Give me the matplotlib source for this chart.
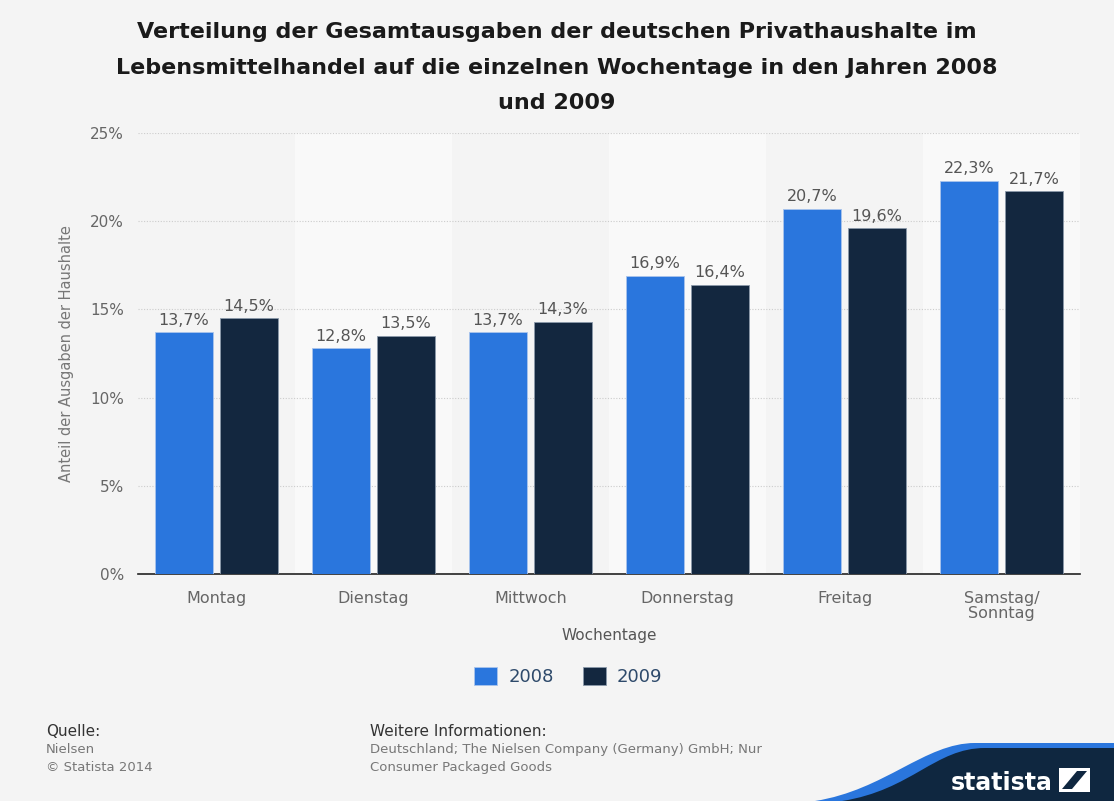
import matplotlib.pyplot as plt
import numpy as np
from matplotlib.patches import Polygon, Rectangle, PathPatch
from matplotlib.path import Path

# Data
days = ["Montag", "Dienstag", "Mittwoch", "Donnerstag", "Freitag", "Samstag/\nSonntag"]
years = ["2008", "2009"]
share_2008 = [13.7, 12.8, 13.7, 16.9, 20.7, 22.3]
share_2009 = [14.5, 13.5, 14.3, 16.4, 19.6, 21.7]
y_ticks = [0, 5, 10, 15, 20, 25]

col_2008 = "#2a76dd"
col_2009 = "#13273f"
bg = "#f4f4f4"

plt.rcParams["font.family"] = ["DejaVu Sans"]

fig = plt.figure(figsize=(11.14, 8.01), dpi=100, facecolor=bg)
ax = fig.add_axes([0.1239, 0.2834, 0.8456, 0.5506])
ax.set_facecolor(bg)

x = np.arange(len(days))
w = 0.37
off = 0.207

# alternating column bands
for i in x:
    if i % 2 == 1:
        ax.axvspan(i - 0.5, i + 0.5, color="#f9f9f9", zorder=0, lw=0)

for yv in y_ticks[1:]:
    ax.axhline(yv, color="#cccccc", lw=0.8, ls=(0, (1, 1.5)), zorder=1)

b1 = ax.bar(x - off, share_2008, w, color=col_2008, edgecolor="#a9c4ec", lw=0.6, zorder=3, label=years[0])
b2 = ax.bar(x + off, share_2009, w, color=col_2009, edgecolor="#8b99aa", lw=0.6, zorder=3, label=years[1])

for bars, vals in ((b1, share_2008), (b2, share_2009)):
    for rect, v in zip(bars, vals):
        ax.text(rect.get_x() + rect.get_width() / 2, v + 0.25, f"{v:.1f}%".replace(".", ","),
                ha="center", va="bottom", fontsize=11.5, color="#555555", zorder=4)

ax.set_xlim(-0.5, 5.5)
ax.set_ylim(0, 25)
ax.set_yticks(y_ticks)
ax.set_yticklabels([f"{t}%" for t in y_ticks], fontsize=11, color="#666666")
ax.set_xticks(x)
ax.set_xticklabels(days, fontsize=11.5, color="#666666", linespacing=1.0)
ax.tick_params(axis="x", length=0, pad=12)
ax.tick_params(axis="y", length=0, pad=10)
for s in ["top", "right", "left"]:
    ax.spines[s].set_visible(False)
ax.spines["bottom"].set_color("#222222")
ax.spines["bottom"].set_linewidth(1.2)

ax.set_xlabel("Wochentage", fontsize=11, color="#555555", labelpad=5)
ax.set_ylabel("Anteil der Ausgaben der Haushalte", fontsize=10.5, color="#777777", labelpad=12)

fig.text(0.5, 0.972, "Verteilung der Gesamtausgaben der deutschen Privathaushalte im\n"
         "Lebensmittelhandel auf die einzelnen Wochentage in den Jahren 2008\nund 2009",
         ha="center", va="top", fontsize=16, fontweight="bold", color="#1a1a1a", linespacing=1.95)

leg = fig.legend(loc="center", bbox_to_anchor=(0.51, 0.155), ncol=2, frameon=False,
                 fontsize=13, handlelength=1.3, handleheight=1.1, columnspacing=1.6, handletextpad=0.6)
for t in leg.get_texts():
    t.set_color("#2e4a6b")

# footer
fig.text(0.041, 0.081, "Quelle:", fontsize=11, color="#333333")
fig.text(0.041, 0.060, "Nielsen", fontsize=9.5, color="#777777")
fig.text(0.041, 0.038, "© Statista 2014", fontsize=9.5, color="#777777")
fig.text(0.332, 0.081, "Weitere Informationen:", fontsize=11, color="#333333")
fig.text(0.332, 0.060, "Deutschland; The Nielsen Company (Germany) GmbH; Nur", fontsize=9.5,
         color="#777777")
fig.text(0.332, 0.038, "Consumer Packaged Goods", fontsize=9.5, color="#777777")


# statista logo swoosh (pixel coords, y measured from top)
def fpt(px, py):
    return (px / 1114, 1 - py / 801)


def swoosh(x0, ytop, xend, color, z):
    verts = [fpt(x0, 801), fpt(x0 + 70, 790), fpt(xend - 50, ytop), fpt(xend, ytop),
             fpt(1114, ytop), fpt(1114, 801), fpt(x0, 801)]
    codes = [Path.MOVETO, Path.CURVE4, Path.CURVE4, Path.CURVE4,
             Path.LINETO, Path.LINETO, Path.CLOSEPOLY]
    return PathPatch(Path(verts, codes), transform=fig.transFigure, color=color, lw=0, zorder=z)


fig.patches.extend([swoosh(815, 743, 975, "#2a76dd", 5), swoosh(842, 748, 985, "#0f2740", 6)])
fig.text(fpt(1002, 0)[0], fpt(0, 783)[1], "statista", fontsize=17, fontweight="bold", color="white",
         zorder=7, ha="center", va="center")
fig.patches.append(Rectangle(fpt(1059, 792), 31 / 1114, 24 / 801, transform=fig.transFigure,
                             color="white", lw=0, zorder=7))
fig.patches.append(Polygon([fpt(1062, 789), fpt(1072, 789), fpt(1087, 771), fpt(1077, 771)],
                           closed=True, transform=fig.transFigure, color="#0f2740", lw=0, zorder=8))

fig.savefig("out.png", dpi=100, facecolor=bg)
